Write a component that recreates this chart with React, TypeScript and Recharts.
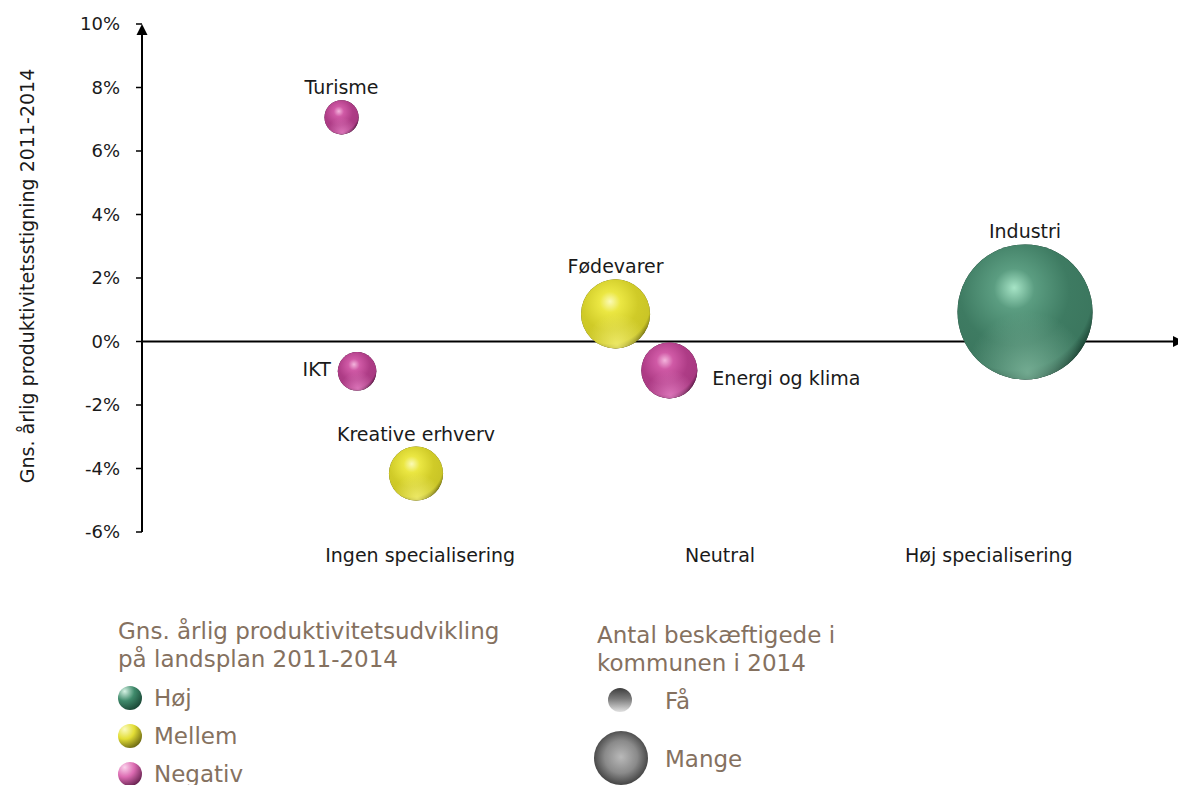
import React from "react";
import { ScatterChart, Scatter, XAxis, YAxis, ZAxis, ReferenceLine } from "recharts";

// branches
const sectors = ["Turisme", "IKT", "Kreative erhverv", "Fødevarer", "Energi og klima", "Industri"];
const specialisation = [19.3, 20.8, 26.5, 45.8, 51.0, 85.4];
const growth = [7.06, -0.94, -4.16, 0.87, -0.91, 0.93];
const employed = [550, 700, 1380, 2250, 1480, 8600];
const level = ["Negativ", "Negativ", "Mellem", "Mellem", "Negativ", "Høj"];

const yTicks = [-6, -4, -2, 0, 2, 4, 6, 8, 10];
const xTicks = [26.9, 55.9, 81.9];
const xTickLabels = ["Ingen specialisering", "Neutral", "Høj specialisering"];

const levelNames = ["Høj", "Mellem", "Negativ"];

const data = sectors.map((name, i) => ({
  name,
  x: specialisation[i],
  y: growth[i],
  z: employed[i],
  level: level[i],
}));

const FONT = "'DejaVu Sans', sans-serif";
const LEGEND_COLOR = "#85715f";

const palette: Record<string, { hi: string; mid: string; base: string; edge: string; glow: string }> = {
  Høj: { hi: "#a6e4c6", mid: "#5b9d81", base: "#3e7b62", edge: "#0b2b1f", glow: "#7db59b" },
  Mellem: { hi: "#fbfab6", mid: "#ebe743", base: "#d0cb28", edge: "#56540a", glow: "#f3ef72" },
  Negativ: { hi: "#f3b4dc", mid: "#d05aa6", base: "#ae3c86", edge: "#3c0a2d", glow: "#e47ec2" },
};

const labelSide: Record<string, "top" | "left" | "right"> = {
  IKT: "left",
  "Energi og klima": "right",
};

const Sphere = ({ id, cx, cy, r, lv }: { id: string; cx: number; cy: number; r: number; lv: string }) => {
  const c = palette[lv];
  return (
    <g>
      <defs>
        <radialGradient id={`${id}-b`} cx="42%" cy="36%" r="68%" fx="42%" fy="32%">
          <stop offset="0" stopColor={c.hi} />
          <stop offset="0.22" stopColor={c.mid} />
          <stop offset="0.6" stopColor={c.base} />
          <stop offset="0.85" stopColor={c.base} stopOpacity={0.95} />
          <stop offset="1" stopColor={c.edge} />
        </radialGradient>
        <radialGradient id={`${id}-r`} cx="52%" cy="95%" r="45%">
          <stop offset="0" stopColor={c.glow} stopOpacity={0.85} />
          <stop offset="1" stopColor={c.glow} stopOpacity={0} />
        </radialGradient>
      </defs>
      <circle cx={cx} cy={cy} r={r} fill={c.edge} />
      <circle cx={cx} cy={cy} r={r} fill={`url(#${id}-b)`} />
      <circle cx={cx} cy={cy} r={r} fill={`url(#${id}-r)`} />
    </g>
  );
};

const Bubble = (props: any) => {
  const { cx, cy, payload } = props;
  const r = props.width ? props.width / 2 : Math.sqrt((props.size || 0) / Math.PI);
  const idx = sectors.indexOf(payload.name);
  const side = labelSide[payload.name] || "top";
  let tx = cx;
  let ty = cy - r - 6;
  let anchor: "middle" | "start" | "end" = "middle";
  if (side === "left") {
    tx = cx - r - 7;
    ty = cy + 5;
    anchor = "end";
  } else if (side === "right") {
    tx = cx + r + 15;
    ty = cy + 15;
    anchor = "start";
  }
  return (
    <g>
      <Sphere id={`bub${idx}`} cx={cx} cy={cy} r={r} lv={payload.level} />
      <text x={tx} y={ty} textAnchor={anchor} fontSize={19} fontFamily={FONT} fill="#1a1a1a">
        {payload.name}
      </text>
    </g>
  );
};

const ArrowLine = (props: any) => {
  const { x1, y1, x2, y2 } = props;
  if (Math.abs(x1 - x2) < 0.5) {
    const tip = Math.min(y1, y2);
    const base = Math.max(y1, y2);
    return (
      <g>
        <line x1={x1} y1={base} x2={x1} y2={tip + 6} stroke="#000" strokeWidth={2} />
        <polygon points={`${x1},${tip} ${x1 - 5.5},${tip + 11} ${x1 + 5.5},${tip + 11}`} fill="#000" />
      </g>
    );
  }
  const tip = Math.max(x1, x2) + 8;
  const start = Math.min(x1, x2);
  return (
    <g>
      <line x1={start} y1={y1} x2={tip - 6} y2={y1} stroke="#000" strokeWidth={2} />
      <polygon points={`${tip},${y1} ${tip - 11},${y1 - 5.5} ${tip - 11},${y1 + 5.5}`} fill="#000" />
    </g>
  );
};

const legendGrad: Record<string, [string, string, string]> = {
  Høj: ["#d6f2e4", "#3f8a6b", "#163f2f"],
  Mellem: ["#fbfbc0", "#e3de35", "#5e5b10"],
  Negativ: ["#fbd3ec", "#dc6bb2", "#5a1a45"],
};

const LegendDot = ({ lv }: { lv: string }) => {
  const g = legendGrad[lv];
  const id = `lg-${levelNames.indexOf(lv)}`;
  return (
    <svg width={26} height={26} style={{ display: "block" }}>
      <defs>
        <radialGradient id={id} cx="28%" cy="22%" r="90%">
          <stop offset="0" stopColor={g[0]} />
          <stop offset="0.45" stopColor={g[1]} />
          <stop offset="1" stopColor={g[2]} />
        </radialGradient>
      </defs>
      <circle cx={13} cy={13} r={12} fill={`url(#${id})`} />
    </svg>
  );
};

const GreyDot = ({ r, id, few }: { r: number; id: string; few: boolean }) => (
  <svg width={2 * r + 2} height={2 * r + 2} style={{ display: "block" }}>
    <defs>
      {few ? (
        <linearGradient id={id} x1="0" y1="0" x2="0" y2="1">
          <stop offset="0" stopColor="#3e3e3e" />
          <stop offset="0.45" stopColor="#7a7a7a" />
          <stop offset="1" stopColor="#e2e2e2" />
        </linearGradient>
      ) : (
        <radialGradient id={id} cx="50%" cy="48%" r="55%">
          <stop offset="0" stopColor="#b9b9b9" />
          <stop offset="0.55" stopColor="#8a8a8a" />
          <stop offset="1" stopColor="#3a3a3a" />
        </radialGradient>
      )}
    </defs>
    <circle cx={r + 1} cy={r + 1} r={r} fill={`url(#${id})`} />
  </svg>
);

const legendText: React.CSSProperties = {
  fontFamily: FONT,
  fontSize: 23,
  color: LEGEND_COLOR,
  lineHeight: "28px",
  whiteSpace: "nowrap",
};

export default function App() {
  return (
    <div style={{ position: "absolute", left: 0, top: 0, width: 1178, height: 785, background: "#fff", overflow: "hidden" }}>
      <ScatterChart width={1178} height={600} margin={{ top: 24, right: 2, bottom: 0, left: 0 }}>
        <XAxis
          type="number"
          dataKey="x"
          domain={[0, 100]}
          ticks={xTicks}
          tickFormatter={(v: number) => xTickLabels[xTicks.indexOf(v)] ?? ""}
          axisLine={false}
          tickLine={false}
          tickMargin={11}
          height={68}
          interval={0}
          tick={{ fontSize: 19, fontFamily: FONT, fill: "#1a1a1a" }}
        />
        <YAxis
          type="number"
          dataKey="y"
          domain={[-6, 10]}
          ticks={yTicks}
          interval={0}
          tickFormatter={(v: number) => `${v}%`}
          axisLine={false}
          tickLine={{ stroke: "#000", strokeWidth: 1.5 }}
          tickSize={6}
          tickMargin={16}
          width={142}
          tick={{ fontSize: 18, fontFamily: FONT, fill: "#1a1a1a" }}
        />
        <ZAxis type="number" dataKey="z" domain={[0, 8600]} range={[0, Math.PI * 67.5 * 67.5]} />
        <ReferenceLine x={0} shape={ArrowLine} />
        <ReferenceLine y={0} shape={ArrowLine} />
        <Scatter data={data} shape={Bubble} isAnimationActive={false} />
      </ScatterChart>

      <div
        style={{
          position: "absolute",
          left: 27,
          top: 276,
          transform: "translate(-50%, -50%) rotate(-90deg)",
          fontFamily: FONT,
          fontSize: 19,
          color: "#1a1a1a",
          whiteSpace: "nowrap",
        }}
      >
        Gns. årlig produktivitetsstigning 2011-2014
      </div>

      <div style={{ position: "absolute", left: 118, top: 617, ...legendText }}>
        <div>Gns. årlig produktivitetsudvikling</div>
        <div>på landsplan 2011-2014</div>
      </div>
      {levelNames.map((lv, i) => (
        <div
          key={lv}
          style={{ position: "absolute", left: 117, top: 684 + i * 38, display: "flex", alignItems: "center", ...legendText }}
        >
          <LegendDot lv={lv} />
          <span style={{ marginLeft: 11 }}>{lv}</span>
        </div>
      ))}

      <div style={{ position: "absolute", left: 597, top: 621, ...legendText }}>
        <div>Antal beskæftigede i</div>
        <div>kommunen i 2014</div>
      </div>
      <div style={{ position: "absolute", left: 607, top: 687 }}>
        <GreyDot r={12} id="few" few />
      </div>
      <div style={{ position: "absolute", left: 665, top: 687, ...legendText }}>Få</div>
      <div style={{ position: "absolute", left: 593, top: 730 }}>
        <GreyDot r={27} id="many" few={false} />
      </div>
      <div style={{ position: "absolute", left: 665, top: 745, ...legendText }}>Mange</div>
    </div>
  );
}
